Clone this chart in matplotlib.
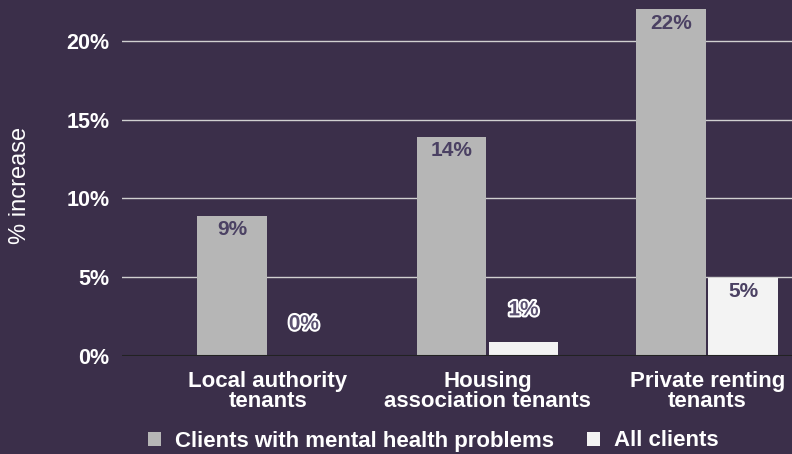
import matplotlib
matplotlib.use("Agg")
import matplotlib.pyplot as plt
import matplotlib.patheffects as pe
from matplotlib.patches import Patch
import numpy as np

categories = ["Local authority\ntenants", "Housing\nassociation tenants", "Private renting\ntenants"]
mental_health = [8.9, 13.9, 22.0]
mental_health_labels = ["9%", "14%", "22%"]
all_clients = [0.0, 0.9, 4.95]
all_clients_labels = ["0%", "1%", "5%"]
series_names = ["Clients with mental health problems", "All clients"]
yticks = [0, 5, 10, 15, 20]
ytick_labels = ["0%", "5%", "10%", "15%", "20%"]

BG = "#3b2f4a"
GRAY = "#b6b6b6"
WHITE = "#f3f3f3"
LABEL = "#4b4163"

plt.rcParams["font.family"] = ["Liberation Sans", "DejaVu Sans"]

fig = plt.figure(figsize=(7.92, 4.54), dpi=100, facecolor=BG)
ax = fig.add_axes([122/792, (454-356)/454, 1-122/792, 356/454])
ax.set_facecolor(BG)

x = np.arange(len(categories))
w = 0.318
b1 = ax.bar(x - w/2 - 0.005, mental_health, w, color=GRAY, zorder=2)
b2 = ax.bar(x + w/2 + 0.005, all_clients, w, color=WHITE, zorder=2)

ax.set_xlim(-0.664, 2.386)
ax.set_ylim(0, 22.6)
ax.set_yticks(yticks)
ax.set_yticklabels(ytick_labels, fontsize=15.5, fontweight="bold", color="white")
ax.set_xticks(x)
ax.set_xticklabels(categories, fontsize=16, fontweight="bold", color="white", linespacing=0.95)
ax.tick_params(axis="both", length=0)
ax.tick_params(axis="y", pad=9)
ax.tick_params(axis="x", pad=11)
for s in ax.spines.values():
    s.set_visible(False)
ax.grid(axis="y", color="#d0d0d0", linewidth=1.0, zorder=1)
ax.axhline(0, color="#222222", linewidth=1.5, zorder=3)

def label_bars(bars, vals, labels):
    for bar, v, lab in zip(bars, vals, labels):
        cx = bar.get_x() + bar.get_width()/2
        if v >= 3:
            ax.annotate(lab, (cx, v), xytext=(0, -10), textcoords="offset points",
                        ha="center", va="center", fontsize=15, fontweight="bold",
                        color=LABEL, zorder=4)
        else:
            ax.annotate(lab, (cx, v), xytext=(0, 23), textcoords="offset points",
                        ha="center", va="center", fontsize=15, fontweight="bold",
                        color="#5a5070", zorder=4,
                        path_effects=[pe.withStroke(linewidth=3, foreground="white")])

label_bars(b1, mental_health, mental_health_labels)
label_bars(b2, all_clients, all_clients_labels)

fig.text(20/792, 1-185/454, "% increase", rotation=90, ha="center", va="center",
         fontsize=17, color="white")

handles = [Patch(facecolor=GRAY, edgecolor="none"), Patch(facecolor=WHITE, edgecolor="none")]
leg = fig.legend(handles, series_names, loc="center", bbox_to_anchor=(433/792, 1-441/454),
                 ncol=2, frameon=False, handlelength=0.6, handleheight=0.6,
                 handletextpad=0.6, columnspacing=1.5,
                 prop={"size": 16, "weight": "bold"})
for t in leg.get_texts():
    t.set_color("white")

fig.savefig("out.png", dpi=100, facecolor=BG)
